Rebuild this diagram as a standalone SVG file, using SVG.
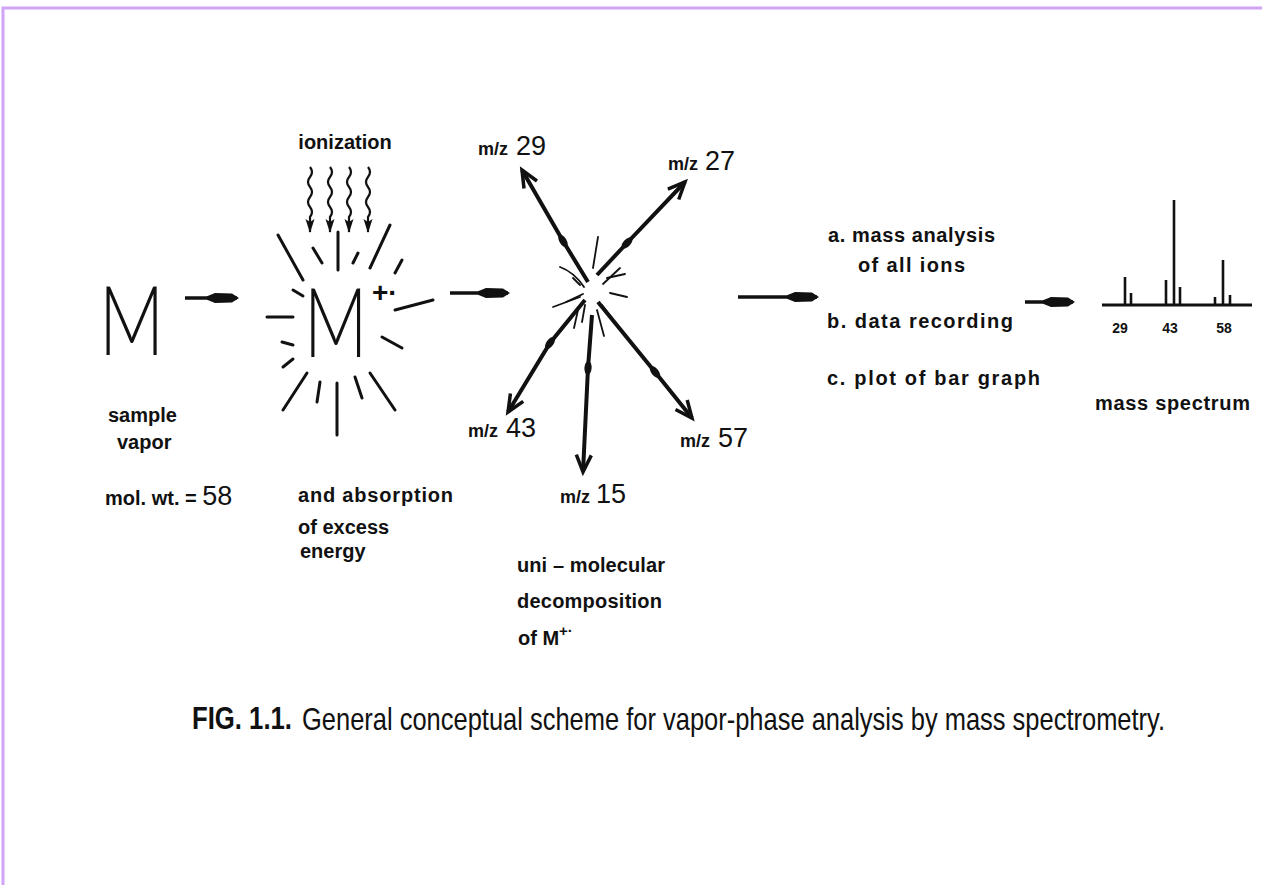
<svg xmlns="http://www.w3.org/2000/svg" width="1262" height="885" viewBox="0 0 1262 885">
<style>
  .lt { font-family: "Liberation Sans", Arial, sans-serif; font-weight: bold; font-size: 20px; fill: #111; }
  .mz { font-family: "Liberation Sans", Arial, sans-serif; font-weight: bold; font-size: 18px; fill: #111; }
  .num { font-family: "Liberation Sans", Arial, sans-serif; font-size: 27px; fill: #111; }
  .bigM { font-family: Lato, Inter, "DejaVu Sans", sans-serif; font-weight: 300; font-size: 97px; fill: #111; }
  .sup { font-family: "Liberation Sans", Arial, sans-serif; font-weight: bold; fill: #111; }
  .cap { font-family: "Liberation Sans", Arial, sans-serif; font-size: 27px; fill: #111; }
  .ray { stroke: #111; stroke-width: 3; stroke-linecap: round; fill: none; }
  .spark { stroke: #111; stroke-width: 1.8; stroke-linecap: round; fill: none; }
  .harrow { stroke: #111; stroke-width: 3.5; fill: none; marker-end: url(#fat); }
  .frag { stroke: #111; stroke-width: 4; fill: none; marker-end: url(#vopen); marker-mid: url(#blob); }
  .wave { stroke: #111; stroke-width: 2.2; fill: none; marker-end: url(#vhead); }
  .peak { stroke: #111; stroke-width: 2.6; }
  .border { stroke: #d0a4f7; stroke-width: 3; fill: none; }
</style>
<defs>
  <marker id="fat" markerUnits="userSpaceOnUse" markerWidth="40" markerHeight="20" refX="0" refY="0" orient="auto" overflow="visible">
    <path d="M-30,-1.8 L-22,-5 L-5,-4.5 L2,0 L-5,4.5 L-22,5 L-30,1.8 Z" fill="#111"/>
  </marker>
  <marker id="vopen" markerUnits="userSpaceOnUse" markerWidth="40" markerHeight="40" refX="0" refY="0" orient="auto" overflow="visible">
    <path d="M-17,-7.5 L0,0 L-17,7.5" fill="none" stroke="#111" stroke-width="3.5" stroke-linejoin="miter"/>
  </marker>
  <marker id="blob" markerUnits="userSpaceOnUse" markerWidth="30" markerHeight="20" refX="0" refY="0" orient="auto" overflow="visible">
    <ellipse cx="0" cy="0" rx="7" ry="3.6" fill="#111"/>
  </marker>
  <marker id="vhead" markerUnits="userSpaceOnUse" markerWidth="30" markerHeight="20" refX="0" refY="0" orient="auto" overflow="visible">
    <path d="M1,0 L-13,-4.5 L-10,0 L-13,4.5 Z" fill="#111"/>
  </marker>
</defs>

<rect x="0" y="0" width="1262" height="885" fill="#ffffff"/>
<path class="border" d="M3,885 L3,8 L1262,8"/>

<g id="connectors">
  <line id="arrow-M-Mplus" class="harrow" x1="185" y1="298" x2="237" y2="298"/>
  <line id="arrow-Mplus-frag" class="harrow" x1="450" y1="293" x2="508" y2="293"/>
  <line id="arrow-frag-analysis" class="harrow" x1="738" y1="297" x2="817" y2="297"/>
  <line id="arrow-analysis-spectrum" class="harrow" x1="1025" y1="302" x2="1073" y2="302"/>
  <path id="frag-29" class="frag" d="M588,282 L563,241 L522,170"/>
  <path id="frag-27" class="frag" d="M597,275 L627,243 L685,182"/>
  <path id="frag-43" class="frag" d="M585,300 L550,343 L508,412"/>
  <path id="frag-15" class="frag" d="M592,315 L588,368 L583,472"/>
  <path id="frag-57" class="frag" d="M598,302 L655,372 L692,418"/>
</g>

<g id="node-M">
  <text class="bigM" transform="translate(99,355) scale(0.74,1)">M</text>
  <text class="lt" x="108" y="422">sample</text>
  <text class="lt" x="117" y="449">vapor</text>
  <text class="lt" x="105" y="505">mol. wt. = <tspan style="font-weight:normal;font-size:27px">58</tspan></text>
</g>

<g id="node-ionization">
  <text class="lt" x="345" y="149" text-anchor="middle">ionization</text>
  <path class="wave" d="M310,167 q4,5 0,10 t0,10 t0,10 t0,10 t0,10 L310,232"/>
  <path class="wave" d="M330,167 q4,5 0,10 t0,10 t0,10 t0,10 t0,10 L330,232"/>
  <path class="wave" d="M349,167 q4,5 0,10 t0,10 t0,10 t0,10 t0,10 L349,232"/>
  <path class="wave" d="M368,167 q4,5 0,10 t0,10 t0,10 t0,10 t0,10 L368,232"/>
</g>

<g id="node-Mplus">
  <text class="bigM" transform="translate(304,357) scale(0.72,1)">M</text>
  <text class="sup" x="372" y="302" font-size="28">+·</text>
  <g id="mplus-rays">
    <line class="ray" x1="278" y1="235" x2="303" y2="280"/>
    <line class="ray" x1="313" y1="248" x2="322" y2="263"/>
    <line class="ray" x1="338" y1="232" x2="338" y2="270"/>
    <line class="ray" x1="353" y1="263" x2="358" y2="253"/>
    <line class="ray" x1="370" y1="268" x2="390" y2="225"/>
    <line class="ray" x1="395" y1="273" x2="402" y2="260"/>
    <line class="ray" x1="293" y1="290" x2="303" y2="296"/>
    <line class="ray" x1="267" y1="317" x2="293" y2="317"/>
    <line class="ray" x1="282" y1="342" x2="293" y2="345"/>
    <line class="ray" x1="283" y1="367" x2="293" y2="359"/>
    <line class="ray" x1="283" y1="410" x2="307" y2="373"/>
    <line class="ray" x1="317" y1="402" x2="320" y2="382"/>
    <line class="ray" x1="337" y1="383" x2="337" y2="435"/>
    <line class="ray" x1="355" y1="377" x2="362" y2="398"/>
    <line class="ray" x1="370" y1="373" x2="395" y2="410"/>
    <line class="ray" x1="382" y1="337" x2="402" y2="348"/>
    <line class="ray" x1="395" y1="310" x2="433" y2="300"/>
  </g>
  <text class="lt" x="298" y="502" textLength="155">and absorption</text>
  <text class="lt" x="298" y="534">of excess</text>
  <text class="lt" x="300" y="558">energy</text>
</g>

<g id="node-fragmentation">
  <g id="sparks">
    <line class="spark" x1="598" y1="237" x2="593" y2="268"/>
    <path class="spark" d="M560,267 Q574,272 584,287"/>
    <line class="spark" x1="607" y1="278" x2="625" y2="274"/>
    <line class="spark" x1="603" y1="284" x2="620" y2="268"/>
    <line class="spark" x1="610" y1="293" x2="627" y2="297"/>
    <line class="spark" x1="553" y1="307" x2="580" y2="297"/>
    <line class="spark" x1="566" y1="302" x2="583" y2="294"/>
    <line class="spark" x1="578" y1="310" x2="574" y2="328"/>
    <line class="spark" x1="597" y1="310" x2="604" y2="336"/>
    <line class="spark" x1="602" y1="305" x2="612" y2="318"/>
    <line class="spark" x1="580" y1="285" x2="573" y2="278"/>
    <line class="spark" x1="585" y1="305" x2="582" y2="322"/>
  </g>
  <text x="478" y="155"><tspan class="mz">m/z</tspan><tspan class="num" dx="8">29</tspan></text>
  <text x="668" y="170"><tspan class="mz">m/z</tspan><tspan class="num" dx="7">27</tspan></text>
  <text x="468" y="437"><tspan class="mz">m/z</tspan><tspan class="num" dx="8">43</tspan></text>
  <text x="560" y="503"><tspan class="mz">m/z</tspan><tspan class="num" dx="6">15</tspan></text>
  <text x="680" y="447"><tspan class="mz">m/z</tspan><tspan class="num" dx="8">57</tspan></text>
  <text class="lt" x="517" y="572" textLength="148">uni – molecular</text>
  <text class="lt" x="517" y="608" textLength="145">decomposition</text>
  <text class="lt" x="518" y="645">of M<tspan dy="-9" font-size="15">+·</tspan></text>
</g>

<g id="node-analysis">
  <text class="lt" x="828" y="242" textLength="167">a. mass analysis</text>
  <text class="lt" x="858" y="272" textLength="107">of all ions</text>
  <text class="lt" x="827" y="328" textLength="186">b. data recording</text>
  <text class="lt" x="827" y="385" textLength="213">c. plot of bar graph</text>
</g>

<g id="node-spectrum">
  <line x1="1102" y1="305" x2="1252" y2="305" stroke="#111" stroke-width="3.2"/>
  <line class="peak" x1="1125" y1="305" x2="1125" y2="277"/>
  <line class="peak" x1="1131" y1="305" x2="1131" y2="293"/>
  <line class="peak" x1="1166" y1="305" x2="1166" y2="280"/>
  <line class="peak" x1="1174" y1="305" x2="1174" y2="200"/>
  <line class="peak" x1="1180" y1="305" x2="1180" y2="287"/>
  <line class="peak" x1="1215" y1="305" x2="1215" y2="297"/>
  <line class="peak" x1="1223" y1="305" x2="1223" y2="260"/>
  <line class="peak" x1="1230" y1="305" x2="1230" y2="295"/>
  <text class="lt" x="1120" y="333" text-anchor="middle" style="font-size:14px">29</text>
  <text class="lt" x="1170" y="333" text-anchor="middle" style="font-size:14px">43</text>
  <text class="lt" x="1224" y="333" text-anchor="middle" style="font-size:14px">58</text>
  <text class="lt" x="1095" y="410" textLength="155">mass spectrum</text>
</g>

<g id="caption">
  <text class="cap" transform="translate(192,729) scale(1,1.14)" x="0" y="0" font-weight="bold" textLength="100" lengthAdjust="spacingAndGlyphs">FIG. 1.1.</text>
  <text class="cap" transform="translate(302,730) scale(1,1.14)" x="0" y="0" textLength="863" lengthAdjust="spacingAndGlyphs">General conceptual scheme for vapor-phase analysis by mass spectrometry.</text>
</g>
</svg>
